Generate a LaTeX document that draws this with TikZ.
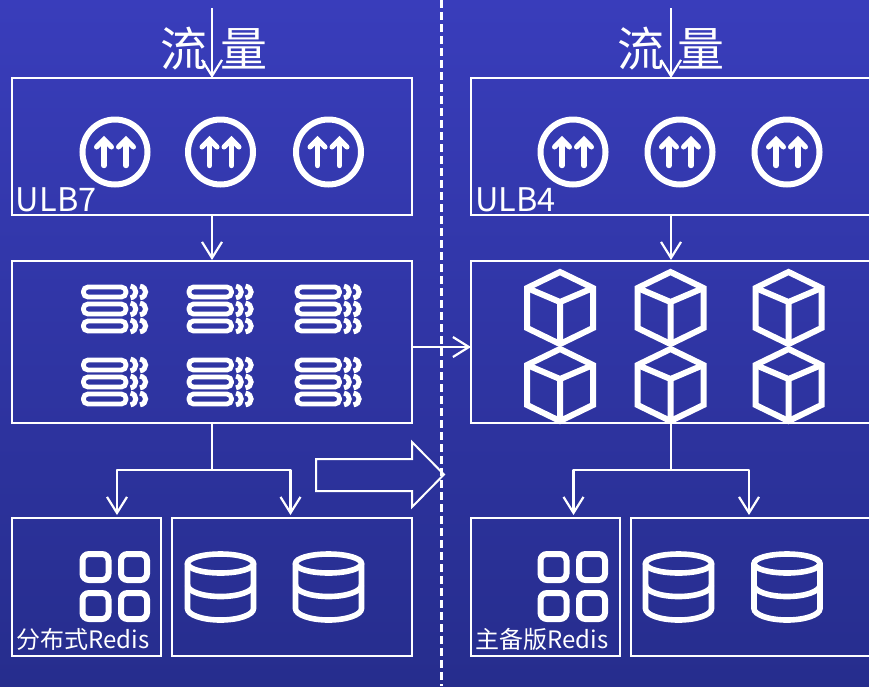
\documentclass[tikz,border=0pt]{standalone}
\usepackage{fontspec}
\setmainfont{Noto Sans CJK SC}
\usetikzlibrary{arrows.meta}
\definecolor{bgtop}{RGB}{57,61,187}
\definecolor{bgbot}{RGB}{38,45,141}
\tikzset{
  x=1pt,y=-1pt,
  box/.style={draw=white,line width=1.1pt,anchor=north west,inner sep=0pt,outer sep=0pt},
  arr/.style={draw=white,line width=2.2pt,-{Straight Barb[length=16pt,width=20pt,line width=2.2pt]}},
  label/.style={text=white,anchor=base west,inner sep=0pt,outer sep=0pt},
  uploadicon/.pic={
    \draw[white,line width=6pt] (0,0) circle[radius=32.5pt];
    \foreach \d in {-11,11}{
      \draw[white,line width=5.4pt,line cap=round] (\d,13.5) -- (\d,-11);
      \draw[white,line width=5pt,line cap=round,line join=miter] (\d-7.5,-5) -- (\d,-12.5) -- (\d+7.5,-5);
    }
  },
  servericon/.pic={
    \foreach \d in {-17,0,17}{
      \draw[white,line width=4.8pt,rounded corners=4.6pt] (-31.6,\d-5) rectangle (11,\d+5);
      \draw[white,line width=5pt] (15.5,\d-5.8) .. controls (22.5,\d-5) and (22.5,\d+5) .. (15.5,\d+5.8);
      \draw[white,line width=5pt] (25,\d-5.8) .. controls (32.5,\d-5) and (32.5,\d+5) .. (25,\d+5.8);
    }
  },
  cubeicon/.pic={
    \draw[white,line width=6pt,line join=miter]
      (0,-36) -- (33,-20) -- (33,20) -- (0,36) -- (-33,20) -- (-33,-20) -- cycle;
    \draw[white,line width=6pt,line join=miter]
      (-33,-20) -- (0,-6) -- (33,-20) (0,-6) -- (0,36);
  },
  gridicon/.pic={
    \foreach \a/\b in {0/0,38.5/0,0/39,38.5/39}{
      \draw[white,line width=6pt,rounded corners=6.5pt] (\a-13,\b-13) rectangle (\a+13,\b+13);
    }
  },
  dbicon/.pic={
    \draw[white,line width=5.6pt] (0,-24) ellipse[x radius=33pt,y radius=9.5pt];
    \draw[white,line width=5.6pt] (-33,-24) -- (-33,21) arc[start angle=180,end angle=360,x radius=33pt,y radius=11.5pt] -- (33,-24);
    \draw[white,line width=5.6pt] (-33,-2.5) arc[start angle=180,end angle=360,x radius=33pt,y radius=11.5pt];
  }
}
\begin{document}
\begin{tikzpicture}
\useasboundingbox (0,0) rectangle (869,686);
\fill[top color=bgtop,bottom color=bgbot] (0,0) rectangle (869,686);
\draw[white,line width=2.2pt,dash pattern=on 8pt off 4pt] (441.5,0) -- (441.5,686);

% left column boxes
\node[box,minimum width=400pt,minimum height=137pt] (ulbL) at (12,78) {};
\node[box,minimum width=400pt,minimum height=162pt] (midL) at (12,261) {};
\node[box,minimum width=149pt,minimum height=138pt] (redL) at (12,518) {};
\node[box,minimum width=240pt,minimum height=138pt] (dbL) at (172,518) {};
% right column boxes
\node[box,minimum width=400pt,minimum height=137pt] (ulbR) at (471,78) {};
\node[box,minimum width=400pt,minimum height=162pt] (midR) at (471,261) {};
\node[box,minimum width=149pt,minimum height=138pt] (redR) at (471,518) {};
\node[box,minimum width=240pt,minimum height=138pt] (dbR) at (631,518) {};

% titles
\node[label,font=\fontsize{47}{47}\selectfont] (flowL) at (160.5,66) {流\hspace{13pt}量};
\node[label,font=\fontsize{47}{47}\selectfont] (flowR) at (617.5,66) {流\hspace{13pt}量};
\coordinate (inL) at (212,8);
\coordinate (inR) at (671,8);

% labels
\node[label,font=\fontsize{32.5}{32.5}\selectfont] (tL) at (16,211) {ULB7};
\node[label,font=\fontsize{32.5}{32.5}\selectfont] (tR) at (475,211) {ULB4};
\node[label,font=\fontsize{24}{24}\selectfont] (rL) at (16.5,648) {分布式Redis};
\node[label,font=\fontsize{24}{24}\selectfont] (rR) at (475.5,648) {主备版Redis};

% icons
\foreach \x in {115,220.5,328.5}{\pic at (\x,152) {uploadicon};}
\foreach \x in {573,680,787}{\pic at (\x,152) {uploadicon};}
\foreach \x in {115,220.5,328.5}{
  \pic at (\x,309) {servericon};
  \pic at (\x,382) {servericon};
}
\foreach \x in {560,670.5,788.5}{
  \pic at (\x,308) {cubeicon};
  \pic at (\x,385) {cubeicon};
}
\pic at (95.5,567) {gridicon};
\pic at (553.5,567) {gridicon};
\foreach \x in {220.5,328.5,678.5,787}{\pic at (\x,587.5) {dbicon};}

% connectors
\draw[arr] (inL) -- (ulbL.north);
\draw[arr] (inR) -- (ulbR.north);
\draw[arr] (ulbL.south) -- ([yshift=1pt]midL.north);
\draw[arr] (ulbR.south) -- ([yshift=1pt]midR.north);
\draw[arr] ([yshift=-5pt]midL.east) -- ([yshift=-5pt]midR.west);
\coordinate (jL) at (212,470);
\coordinate (jR) at (671,470);
\draw[white,line width=2.2pt] (midL.south) -- (jL);
\draw[white,line width=2.2pt] (midR.south) -- (jR);
\draw[arr,line join=round] (jL) -| ([xshift=30.5pt,yshift=3pt]redL.north);
\draw[arr,line join=round] (jL) -| ([xshift=-1.5pt,yshift=3pt]dbL.north);
\draw[arr,line join=round] (jR) -| ([xshift=28pt,yshift=3pt]redR.north);
\draw[arr,line join=round] (jR) -| ([xshift=-2pt,yshift=3pt]dbR.north);

% block arrow
\draw[white,line width=2pt,line join=miter]
  (316,459) -- (412,459) -- (412,442) -- (444,474.5) -- (412,507) -- (412,491) -- (316,491) -- cycle;
\end{tikzpicture}
\end{document}
